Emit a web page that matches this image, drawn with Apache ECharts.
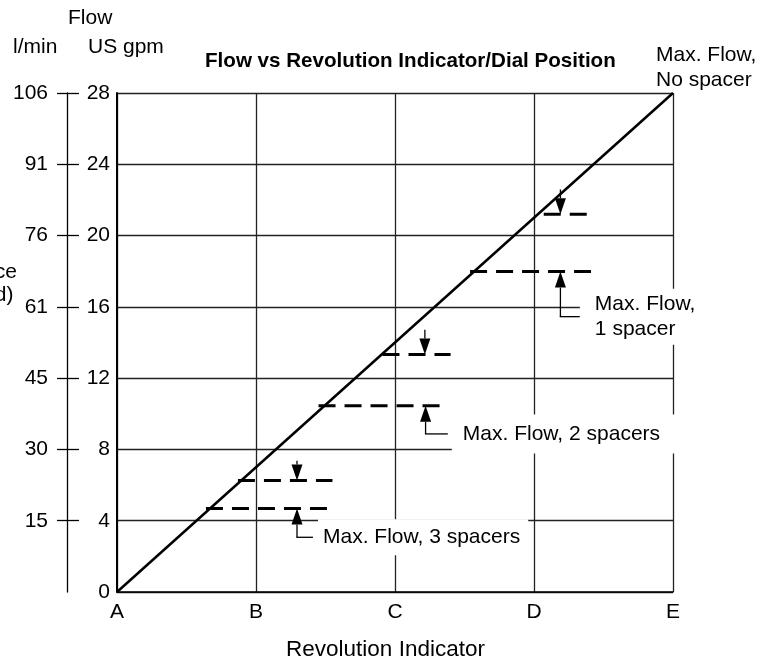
<!DOCTYPE html>
<html><head><meta charset="utf-8">
<script src="https://cdn.jsdelivr.net/npm/echarts@6/dist/echarts.min.js"></script>
<style>html,body{margin:0;padding:0;background:#fff}#c{width:772px;height:666px}</style>
</head><body><div id="c"></div>
<script>
// ---- data ----
const xLabels = ['A', 'B', 'C', 'D', 'E'];
const gpmTicks = [0, 4, 8, 12, 16, 20, 24, 28];
const lpmLabels = ['0', '15', '30', '45', '61', '76', '91', '106'];
const flowLine = [[0, 0], [4, 28]];
const dashFlow = [4.68, 6.26, 10.45, 13.33, 17.98, 21.19];
const dashFrom = [0.64, 0.87, 1.45, 1.91, 2.54, 3.07];
const dashTo   = [1.55, 1.55, 2.38, 2.40, 3.41, 3.44];
const downArrowX    = [1.295, 2.215, 3.19];
const downArrowTip  = [6.26, 13.33, 21.19];
const downArrowTail = [7.36, 14.72, 22.59];
const upArrowX    = [1.295, 2.22, 3.19];
const upArrowTip  = [4.68, 10.45, 17.98];
const upArrowTail = [3.07, 8.87, 15.45];
const leaderEndX  = [1.41, 2.38, 3.33];
const spacerLabels = ['Max. Flow, 3 spacers', 'Max. Flow, 2 spacers', 'Max. Flow,\n1 spacer'];
const noSpacerLabel = 'Max. Flow,\nNo spacer';
const titleText = 'Flow vs Revolution Indicator/Dial Position';
const xName = 'Revolution Indicator';

// ---- chart ----
const FONT = "'Liberation Sans', Arial, Helvetica, sans-serif";
const FS = 21;
const chart = echarts.init(document.getElementById('c'), null, {renderer: 'canvas'});

const labelStyles = [
  {gap: 5, padding: [6, 8, 5, 5]},
  {gap: 4, padding: [7, 16, 7, 11]},
  {gap: 0, padding: [3, 8, 3, 15]}
];

function renderArrow(params, api) {
  const x = api.value(0), tip = api.value(1), tail = api.value(2), ex = api.value(3);
  const pT = api.coord([x, tip]);
  const pB = api.coord([x, tail]);
  const dir = pB[1] > pT[1] ? 1 : -1;
  const hl = 16, hw = 5.5;
  const base = pT[1] + dir * hl;
  const children = [
    {type: 'polygon', shape: {points: [[pT[0], pT[1]], [pT[0] - hw, base], [pT[0] + hw, base]]}, style: {fill: '#000'}},
    {type: 'line', shape: {x1: pT[0], y1: base, x2: pB[0], y2: pB[1]}, style: {stroke: '#000', lineWidth: 1.3}}
  ];
  if (ex != null && !isNaN(ex)) {
    const pE = api.coord([ex, tail]);
    children.push({type: 'line', shape: {x1: pB[0] - 0.65, y1: pB[1], x2: pE[0], y2: pE[1]}, style: {stroke: '#000', lineWidth: 1.3}});
    const ls = labelStyles[params.dataIndex];
    children.push({type: 'text', x: pE[0] + ls.gap, y: pE[1], z2: 10,
      style: {text: spacerLabels[params.dataIndex], fill: '#000', font: `${FS}px ${FONT}`, lineHeight: 25,
        align: 'left', verticalAlign: 'middle', backgroundColor: '#fff', padding: ls.padding}});
  }
  return {type: 'group', children};
}

const series = [
  {type: 'line', data: flowLine, symbol: 'none', silent: true,
   lineStyle: {color: '#000', width: 2.5}, z: 5}
];
dashFlow.forEach((f, i) => {
  series.push({type: 'line', data: [[dashFrom[i], f], [dashTo[i], f]], symbol: 'none', silent: true,
    lineStyle: {color: '#000', width: 3, type: [17, 9]}, z: 5});
});
series.push({type: 'custom', renderItem: renderArrow, silent: true, clip: false, z: 6,
  data: downArrowX.map((x, i) => [x, downArrowTip[i], downArrowTail[i]])});
series.push({type: 'custom', renderItem: renderArrow, silent: true, clip: false, z: 7,
  data: upArrowX.map((x, i) => [x, upArrowTip[i], upArrowTail[i], leaderEndX[i]])});

const gridLine = {show: true, lineStyle: {color: '#222', width: 1.3}};

chart.setOption({
  animation: false,
  backgroundColor: '#fff',
  title: {text: titleText, left: 205, top: 51, padding: 0,
    textStyle: {fontFamily: FONT, fontSize: 20.6, fontWeight: 'bold', color: '#000'}},
  grid: {left: 117, right: 99, top: 93, bottom: 71, containLabel: false},
  xAxis: {
    type: 'value', min: 0, max: 4, interval: 1,
    name: xName, nameLocation: 'middle', nameGap: 46,
    nameTextStyle: {fontFamily: FONT, fontSize: 22.5, color: '#000', padding: [0, 19, 0, 0]},
    axisLine: {show: true, lineStyle: {color: '#000', width: 1.5}},
    axisTick: {show: false},
    axisLabel: {formatter: v => xLabels[v], fontFamily: FONT, fontSize: FS, color: '#000', margin: 10},
    splitLine: gridLine
  },
  yAxis: [
    {type: 'value', min: 0, max: 28, interval: 4,
     axisLine: {show: true, lineStyle: {color: '#000', width: 2}},
     axisTick: {show: false},
     axisLabel: {fontFamily: FONT, fontSize: FS, color: '#000', margin: 7},
     splitLine: gridLine},
    {type: 'value', min: 0, max: 28, interval: 4, position: 'left', offset: 50,
     axisLine: {show: true, onZero: false, lineStyle: {color: '#000', width: 1.3}},
     axisTick: {show: true, length: 10, lineStyle: {color: '#000', width: 1.3}, customValues: gpmTicks.slice(1)},
     axisLabel: {fontFamily: FONT, fontSize: FS, color: '#000', margin: 19, customValues: gpmTicks.slice(1),
       formatter: v => { const k = gpmTicks.indexOf(v); return k > 0 ? lpmLabels[k] : ''; }},
     splitLine: {show: false}},
    {type: 'value', min: 0, max: 28, interval: 4, position: 'left', offset: 50,
     axisLine: {show: false, onZero: false},
     axisTick: {show: true, inside: true, length: 12, lineStyle: {color: '#000', width: 1.3}, customValues: gpmTicks.slice(1)},
     axisLabel: {show: false},
     splitLine: {show: false}}
  ],
  graphic: [
    {type: 'text', left: 68, top: 8, style: {text: 'Flow', font: `${FS}px ${FONT}`, fill: '#000'}},
    {type: 'text', left: 13, top: 37, style: {text: 'l/min', font: `${FS}px ${FONT}`, fill: '#000'}},
    {type: 'text', left: 88, top: 37, style: {text: 'US gpm', font: `${FS}px ${FONT}`, fill: '#000'}},
    {type: 'text', right: 755, top: 261, style: {text: 'ce\nd)', font: `${FS}px ${FONT}`, fill: '#000', lineHeight: 23, align: 'right'}},
    {type: 'text', left: 656, top: 43, style: {text: noSpacerLabel, font: `${FS}px ${FONT}`, fill: '#000', lineHeight: 25}}
  ],
  series
});
</script>
</body></html>
